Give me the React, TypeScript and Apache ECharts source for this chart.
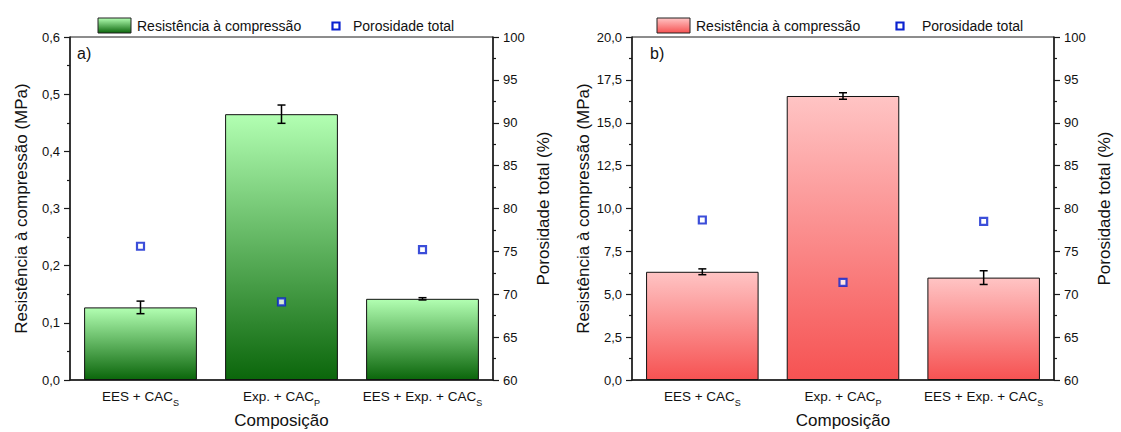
import React, { useEffect, useRef } from "react";
import * as echarts from "echarts";

const categories = ["EES + CAC_S", "Exp. + CAC_P", "EES + Exp. + CAC_S"];

const resistA = [0.127, 0.465, 0.142];
const resistAErr = [0.011, 0.016, 0.002];
const porosA = [75.6, 69.1, 75.2];

const resistB = [6.31, 16.56, 5.97];
const resistBErr = [0.17, 0.19, 0.4];
const porosB = [78.66, 71.39, 78.5];

const legendResist = "Resistência à compressão";
const legendPoros = "Porosidade total";
const yNameResist = "Resistência à compressão (MPa)";
const yNamePoros = "Porosidade total (%)";
const xName = "Composição";

const FONT = "'Liberation Sans', Arial, sans-serif";
const AXIS_COLOR = "#1a1a1a";
const MARK_BLUE = "#0a22d0";

const greenGrad = {
  type: "linear", x: 0, y: 0, x2: 0, y2: 1,
  colorStops: [
    { offset: 0, color: "#b2ffb2" },
    { offset: 1, color: "#0b660b" },
  ],
};
const redGrad = {
  type: "linear", x: 0, y: 0, x2: 0, y2: 1,
  colorStops: [
    { offset: 0, color: "#ffc4c4" },
    { offset: 1, color: "#f65252" },
  ],
};

const fmtComma = (d: number) => (v: number) => v.toFixed(d).replace(".", ",");

function errorRender(params: any, api: any) {
  const x = api.value(0);
  const v = api.value(1);
  const e = api.value(2);
  const top = api.coord([x, v + e]);
  const bot = api.coord([x, v - e]);
  const hw = 4;
  const st = { stroke: "#000", lineWidth: 1.5 };
  return {
    type: "group",
    children: [
      { type: "line", shape: { x1: top[0], y1: top[1], x2: bot[0], y2: bot[1] }, style: st },
      { type: "line", shape: { x1: top[0] - hw, y1: top[1], x2: top[0] + hw, y2: top[1] }, style: st },
      { type: "line", shape: { x1: bot[0] - hw, y1: bot[1], x2: bot[0] + hw, y2: bot[1] }, style: st },
    ],
  };
}

function xAxisFor(gridIndex: number) {
  return {
    type: "category",
    gridIndex,
    data: categories,
    name: xName,
    nameLocation: "middle",
    nameGap: 32,
    nameTextStyle: { fontSize: 17, color: "#111", fontFamily: FONT },
    axisLine: { lineStyle: { color: AXIS_COLOR, width: 1.5 } },
    axisTick: { alignWithLabel: true, length: 6, lineStyle: { color: AXIS_COLOR, width: 1.2 } },
    axisLabel: {
      interval: 0,
      margin: 9,
      color: "#111",
      fontSize: 13,
      fontFamily: FONT,
      formatter: (v: string) => {
        const m = v.match(/^(.*)_(\w)$/);
        return m ? `{n|${m[1]}}{sub|${m[2]}}` : `{n|${v}}`;
      },
      rich: {
        n: { fontSize: 13.5, color: "#111", fontFamily: FONT, lineHeight: 18, verticalAlign: "top" },
        sub: { fontSize: 9, color: "#111", fontFamily: FONT, lineHeight: 11, verticalAlign: "bottom" },
      },
    },
    splitLine: { show: false },
  };
}

function yLeft(gridIndex: number, max: number, interval: number) {
  return {
    type: "value",
    gridIndex,
    min: 0,
    max,
    interval,
    position: "left",
    name: yNameResist,
    nameLocation: "middle",
    nameGap: 40,
    nameTextStyle: { fontSize: 17, color: "#111", fontFamily: FONT },
    axisLine: { show: true, lineStyle: { color: AXIS_COLOR, width: 1.5 } },
    axisTick: { show: true, length: 6, lineStyle: { color: AXIS_COLOR, width: 1.2 } },
    minorTick: { show: true, splitNumber: 2, length: 3, lineStyle: { color: AXIS_COLOR, width: 1.2 } },
    axisLabel: { margin: 10, color: "#111", fontSize: 13, fontFamily: FONT, formatter: fmtComma(1) },
    splitLine: { show: false },
  };
}

function yRight(gridIndex: number) {
  return {
    type: "value",
    gridIndex,
    min: 60,
    max: 100,
    interval: 5,
    position: "right",
    name: yNamePoros,
    nameLocation: "middle",
    nameGap: 42,
    nameTextStyle: { fontSize: 17, color: "#111", fontFamily: FONT },
    axisLine: { show: true, lineStyle: { color: AXIS_COLOR, width: 1.5 } },
    axisTick: { show: true, length: 6, lineStyle: { color: AXIS_COLOR, width: 1.2 } },
    minorTick: { show: true, splitNumber: 2, length: 3, lineStyle: { color: AXIS_COLOR, width: 1.2 } },
    axisLabel: { margin: 10, color: "#111", fontSize: 13, fontFamily: FONT, formatter: (v: number) => String(v) },
    splitLine: { show: false },
  };
}

function legendGraphics(rectX: number, textX: number, markX: number, markTextX: number, grad: any) {
  return [
    {
      type: "rect",
      shape: { x: rectX, y: 18, width: 33, height: 15 },
      style: { fill: grad, stroke: "#222", lineWidth: 1 },
    },
    {
      type: "text",
      x: textX,
      y: 26,
      style: { text: legendResist, fontSize: 14, fontFamily: FONT, fill: "#111", verticalAlign: "middle", align: "left" },
    },
    {
      type: "rect",
      shape: { x: markX - 3.5, y: 26 - 3.5, width: 7, height: 7 },
      style: { fill: "#fff", stroke: MARK_BLUE, lineWidth: 2.2 },
    },
    {
      type: "text",
      x: markTextX,
      y: 26,
      style: { text: legendPoros, fontSize: 14, fontFamily: FONT, fill: "#111", verticalAlign: "middle", align: "left" },
    },
  ];
}

export default function App() {
  const ref = useRef<HTMLDivElement>(null);
  useEffect(() => {
    if (!ref.current) return;
    const chart = echarts.init(ref.current, null, { renderer: "svg" });
    const barStyle = (grad: any) => ({ color: grad, borderColor: "#111", borderWidth: 1 });
    const scatterStyle = { color: "#fff", borderColor: MARK_BLUE, borderWidth: 2.2 };
    chart.setOption({
      animation: false,
      textStyle: { fontFamily: FONT },
      grid: [
        {
          left: 70, right: 1121 - 493, top: 37, bottom: 52, show: true,
          borderColor: AXIS_COLOR, borderWidth: 1, containLabel: false, outerBoundsMode: "none",
        },
        {
          left: 632, right: 1121 - 1054, top: 37, bottom: 52, show: true,
          borderColor: AXIS_COLOR, borderWidth: 1, containLabel: false, outerBoundsMode: "none",
        },
      ],
      xAxis: [xAxisFor(0), xAxisFor(1)],
      yAxis: [yLeft(0, 0.6, 0.1), yRight(0), yLeft(1, 20, 2.5), yRight(1)],
      series: [
        {
          type: "bar", name: legendResist, xAxisIndex: 0, yAxisIndex: 0,
          data: resistA, barWidth: "80%", itemStyle: barStyle(greenGrad),
        },
        {
          type: "custom", xAxisIndex: 0, yAxisIndex: 0, renderItem: errorRender, z: 5,
          encode: { x: 0, y: 1 },
          data: categories.map((_, i) => [i, resistA[i], resistAErr[i]]),
        },
        {
          type: "scatter", name: legendPoros, xAxisIndex: 0, yAxisIndex: 1, z: 6,
          symbol: "rect", symbolSize: 7, data: porosA, itemStyle: scatterStyle,
        },
        {
          type: "bar", name: legendResist, xAxisIndex: 1, yAxisIndex: 2,
          data: resistB, barWidth: "80%", itemStyle: barStyle(redGrad),
        },
        {
          type: "custom", xAxisIndex: 1, yAxisIndex: 2, renderItem: errorRender, z: 5,
          encode: { x: 0, y: 1 },
          data: categories.map((_, i) => [i, resistB[i], resistBErr[i]]),
        },
        {
          type: "scatter", name: legendPoros, xAxisIndex: 1, yAxisIndex: 3, z: 6,
          symbol: "rect", symbolSize: 7, data: porosB, itemStyle: scatterStyle,
        },
      ],
      graphic: [
        ...legendGraphics(98, 137, 336, 353, greenGrad),
        ...legendGraphics(657, 696, 900, 922, redGrad),
        {
          type: "text", x: 77, y: 53,
          style: { text: "a)", fontSize: 16, fontFamily: FONT, fill: "#111", verticalAlign: "middle" },
        },
        {
          type: "text", x: 650, y: 53,
          style: { text: "b)", fontSize: 16, fontFamily: FONT, fill: "#111", verticalAlign: "middle" },
        },
      ],
    });
    return () => chart.dispose();
  }, []);
  return (
    <div
      ref={ref}
      style={{ position: "fixed", left: 0, top: 0, width: 1121, height: 432, background: "#fff" }}
    />
  );
}
